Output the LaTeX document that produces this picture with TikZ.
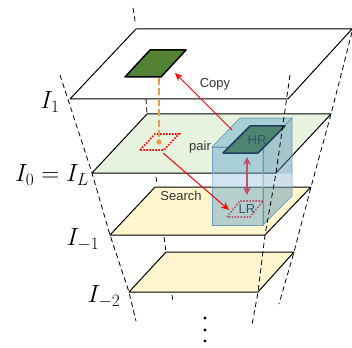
\documentclass[tikz,border=0pt]{standalone}
\usepackage{fontspec}
\setsansfont{Liberation Sans}
\usetikzlibrary{patterns,arrows.meta}
\definecolor{planegreen}{HTML}{E8F3DF}
\definecolor{planeyellow}{HTML}{FFF5CE}
\definecolor{patchgreen}{HTML}{548235}
\definecolor{boxblue}{HTML}{5BA2CC}
\definecolor{boxedge}{HTML}{6C9DC0}
\definecolor{hrfill}{HTML}{4F8570}
\definecolor{hredge}{HTML}{1F3F5F}
\definecolor{pairpink}{HTML}{C0506E}
\definecolor{linkorange}{HTML}{ED9A4C}
\tikzset{
    plane/.style={draw=black, line width=1pt, line join=round},
    guide/.style={draw=black, dash pattern=on 5pt off 3.5pt, line width=0.8pt},
    patch/.style={draw=red, line width=1.6pt, dash pattern=on 1.5pt off 1.5pt},
    redarrow/.style={draw=red, line width=1pt, -{Stealth[length=8pt,width=7pt]}},
    boxface/.style={draw=boxedge, line width=0.7pt, fill=boxblue, fill opacity=0.45},
    sidetext/.style={font=\sffamily\fontsize{13}{13}\selectfont, text=black!80, inner sep=0pt},
    level/.style={font=\fontsize{23}{23}\selectfont, inner sep=0pt},
    vdot/.style={circle, fill=black, inner sep=0pt, minimum size=3.4pt}
}
\begin{document}
\begin{tikzpicture}[x=1pt, y=-1pt]
    \useasboundingbox (0,0) rectangle (352,347);

    % planes
    \coordinate (a1) at (136,29);
    \coordinate (b1) at (352,29);
    \coordinate (c1) at (288,99);
    \coordinate (d1) at (70,99);
    \coordinate (a0) at (147,114);
    \coordinate (b0) at (331,114);
    \coordinate (c0) at (276,173);
    \coordinate (d0) at (92,173);
    \coordinate (a2) at (155,187);
    \coordinate (b2) at (311,187);
    \coordinate (c2) at (265,235);
    \coordinate (d2) at (110,235);
    \coordinate (a3) at (166,252);
    \coordinate (b3) at (294,252);
    \coordinate (c3) at (258,292);
    \coordinate (d3) at (129,292);

    \draw[plane, fill=white] (a1) -- (b1) -- (c1) -- (d1) -- cycle;
    \draw[plane, fill=planegreen] (a0) -- (b0) -- (c0) -- (d0) -- cycle;
    \draw[plane, fill=planeyellow] (a2) -- (b2) -- (c2) -- (d2) -- cycle;
    \draw[plane, fill=planeyellow] (a3) -- (b3) -- (c3) -- (d3) -- cycle;

    % back corners
    \coordinate (t1) at (133,8);
    \coordinate (t2) at (135.5,24);
    \coordinate (t3) at (146,99);
    \coordinate (t4) at (156,177);
    \coordinate (t5) at (157,183);
    \coordinate (t6) at (164,237);
    \coordinate (t7) at (172,295);
    \coordinate (t8) at (173,301);
    \draw[guide] (t1) -- (t2);
    \draw[guide] (t3) -- (a0);
    \draw[guide] (t4) -- (t5);
    \draw[guide] (t6) -- (a3);
    \draw[guide] (t7) -- (t8);

    % front left
    \coordinate (l1) at (60,75);
    \coordinate (l2) at (136,321);
    \draw[guide] (l1) -- (d0) -- (d2) -- (d3) -- (l2);

    % box
    \coordinate (p1) at (212,147);
    \coordinate (p2) at (240,118);
    \coordinate (p3) at (292,118);
    \coordinate (p4) at (263,147);
    \coordinate (p5) at (263,225);
    \coordinate (p6) at (212,225);
    \coordinate (p7) at (292,196);
    \coordinate (g1) at (212,173.5);
    \coordinate (g3) at (292,173.5);
    \coordinate (g4) at (292,186.5);
    \coordinate (g5) at (212,186.5);
    \draw[boxface] (p1) -- (p2) -- (p3) -- (p4) -- cycle;
    \draw[boxface] (p1) -- (p4) -- (p5) -- (p6) -- cycle;
    \draw[boxface, fill=boxblue!88!black] (p4) -- (p3) -- (p7) -- (p5) -- cycle;
    % gap between the planes, seen through the box
    \fill[white, fill opacity=0.35] (g1) -- (g3) -- (g4) -- (g5) -- cycle;
    \fill[pattern=dots, pattern color=white] (g1) -- (g3) -- (g4) -- (g5) -- cycle;

    % patches
    \coordinate (h1) at (125,77);
    \coordinate (h2) at (150,50);
    \coordinate (h3) at (186,50);
    \coordinate (h4) at (161,77);
    \draw[fill=patchgreen, line width=1.5pt, line join=round] (h1) -- (h2) -- (h3) -- (h4) -- cycle;
    \coordinate (q1) at (223,153);
    \coordinate (q2) at (250,126);
    \coordinate (q3) at (285,126);
    \coordinate (q4) at (258,153);
    \draw[draw=hredge, fill=hrfill, line width=1.5pt, line join=round] (q1) -- (q2) -- (q3) -- (q4) -- cycle;
    \coordinate (s1) at (140,150);
    \coordinate (s2) at (155,134);
    \coordinate (s3) at (179,134);
    \coordinate (s4) at (164,150);
    \draw[patch] (s1) -- (s2) -- (s3) -- (s4) -- cycle;
    \coordinate (r1) at (227,217);
    \coordinate (r2) at (240,201);
    \coordinate (r3) at (263,201);
    \coordinate (r4) at (250,217);
    \draw[patch, draw=pairpink] (r1) -- (r2) -- (r3) -- (r4) -- cycle;

    % right guides, over the box
    \coordinate (u1) at (290,75);
    \coordinate (u2) at (252,325);
    \coordinate (v1) at (352,32);
    \coordinate (v2) at (279,304);
    \draw[guide] (u1) -- (c0) -- (c2) -- (c3) -- (u2);
    \draw[guide] (v1) -- (b0) -- (b2) -- (b3) -- (v2);

    % links
    \coordinate (o1) at (159,78);
    \node[circle, fill=linkorange, inner sep=0pt, minimum size=5.5pt] (o2) at (159,142) {};
    \draw[draw=linkorange, line width=1.4pt, dash pattern=on 7pt off 3.5pt] (o1) -- (o2);
    \coordinate (c0a) at (232,130);
    \coordinate (c0b) at (175,73);
    \draw[redarrow] (c0a) -- (c0b);
    \coordinate (e0a) at (163,153);
    \coordinate (e0b) at (229,210);
    \draw[redarrow] (e0a) -- (e0b);
    \coordinate (m1) at (247,157);
    \coordinate (m2) at (247,195);
    \draw[draw=pairpink, line width=1.3pt, {Stealth[length=8pt,width=8pt]}-{Stealth[length=8pt,width=8pt]}] (m1) -- (m2);

    % labels
    \node[sidetext] (copy) at (215,84) {Copy};
    \node[sidetext] (pair) at (200,147) {pair};
    \node[sidetext] (search) at (181,196) {Search};
    \node[sidetext, text=hredge!90] (hr) at (257,140) {HR};
    \node[sidetext, text=hredge!90] (lr) at (247,209) {LR};
    \node[level] (i1) at (50,102) {$I_1$};
    \node[level] (i0) at (52,175) {$I_0=I_L$};
    \node[level] (im1) at (83,240) {$I_{-1}$};
    \node[level] (im2) at (104,297) {$I_{-2}$};
    \node[vdot] (dot1) at (205,318) {};
    \node[vdot] (dot2) at (205,330) {};
    \node[vdot] (dot3) at (205,341) {};
\end{tikzpicture}
\end{document}
